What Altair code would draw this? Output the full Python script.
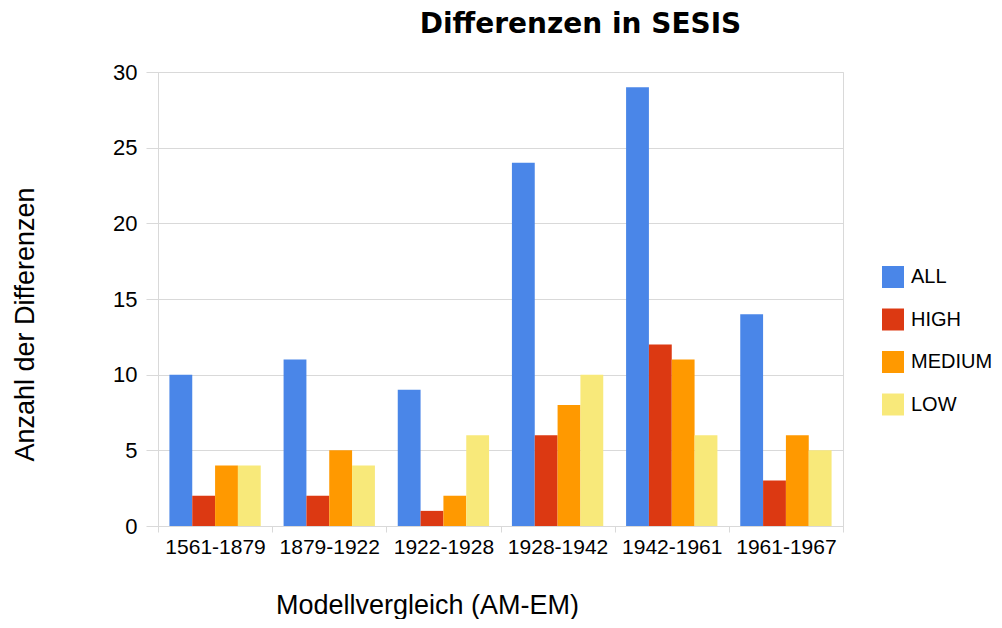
import altair as alt
import pandas as pd

periods = ["1561-1879", "1879-1922", "1922-1928", "1928-1942", "1942-1961", "1961-1967"]
series = ["ALL", "HIGH", "MEDIUM", "LOW"]
all_vals = [10, 11, 9, 24, 29, 14]
high_vals = [2, 2, 1, 6, 12, 3]
medium_vals = [4, 5, 2, 8, 11, 6]
low_vals = [4, 4, 6, 10, 6, 5]
colors = ["#4A86E8", "#DC3912", "#FF9900", "#F8E97A"]

values = {"ALL": all_vals, "HIGH": high_vals, "MEDIUM": medium_vals, "LOW": low_vals}
rows = []
for s in series:
    for p, v in zip(periods, values[s]):
        rows.append({"period": p, "series": s, "value": v})
df = pd.DataFrame(rows)

FONT = "Liberation Sans"
GRID = "#d9d9d9"

chart = alt.Chart(df).mark_bar().encode(
    x=alt.X("period:N", sort=periods,
            scale=alt.Scale(paddingInner=0, paddingOuter=0),
            axis=alt.Axis(title="Modellvergleich (AM-EM)", labelAngle=0,
                          labelFontSize=21, labelColor="black", labelFont=FONT,
                          labelPadding=4, tickBand="extent", tickSize=6,
                          tickColor=GRID, domainColor=GRID,
                          titleFont=FONT, titleFontSize=27, titleFontWeight="normal",
                          titleColor="black", titleX=269, titleY=87,
                          titleAlign="center", titleBaseline="alphabetic")),
    xOffset=alt.XOffset("series:N", sort=series,
                        scale=alt.Scale(paddingInner=0, paddingOuter=0.5)),
    y=alt.Y("value:Q", scale=alt.Scale(domain=[0, 30], nice=False),
            axis=alt.Axis(title="Anzahl der Differenzen", values=[0, 5, 10, 15, 20, 25, 30],
                          labelFontSize=22, labelColor="black", labelFont=FONT,
                          labelPadding=9, tickSize=12, tickColor=GRID,
                          domainColor=GRID, gridColor=GRID,
                          titleFont=FONT, titleFontSize=27, titleFontWeight="normal",
                          titleColor="black", titleX=-125, titleY=252,
                          titleAlign="center", titleBaseline="alphabetic")),
    color=alt.Color("series:N", sort=series,
                    scale=alt.Scale(domain=series, range=colors),
                    legend=alt.Legend(title=None, orient="none", legendX=724, legendY=194,
                                      symbolType="square", symbolSize=484,
                                      symbolStrokeWidth=0, labelFontSize=20,
                                      labelFont=FONT, labelColor="black",
                                      labelOffset=7, rowPadding=20.5)),
).properties(
    width=685,
    height=454,
    title=alt.TitleParams("Differenzen in SESIS", font="DejaVu Sans", fontSize=28,
                          fontWeight="bold", color="black", anchor="middle",
                          frame="group", dx=80, offset=22),
    autosize=alt.AutoSizeParams(type="none"),
    padding={"left": 150, "top": 64, "right": 151, "bottom": 93},
).configure_view(stroke=GRID, strokeWidth=1)

chart.save("out.html", embed_options={"renderer": "svg", "actions": False})
